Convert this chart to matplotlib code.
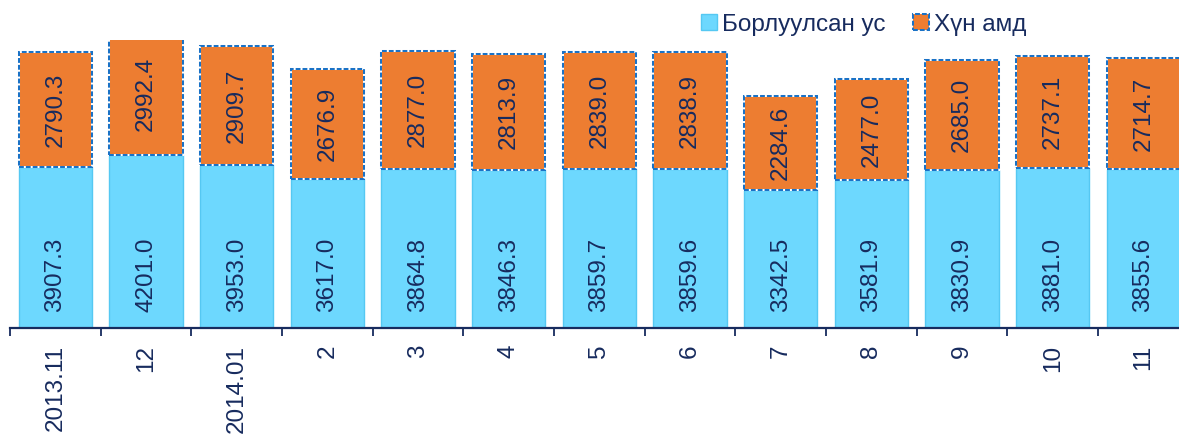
import matplotlib
matplotlib.use("Agg")
import matplotlib.pyplot as plt
from matplotlib.patches import Patch
import numpy as np

categories = ["2013.11", "12", "2014.01", "2", "3", "4", "5", "6", "7", "8", "9", "10", "11"]
sold_water = [3907.3, 4201.0, 3953.0, 3617.0, 3864.8, 3846.3, 3859.7, 3859.6, 3342.5, 3581.9, 3830.9, 3881.0, 3855.6]
population = [2790.3, 2992.4, 2909.7, 2676.9, 2877.0, 2813.9, 2839.0, 2838.9, 2284.6, 2477.0, 2685.0, 2737.1, 2714.7]
legend_labels = ["Борлуулсан ус", "Хүн амд"]

BLUE = "#6DD8FE"
BLUE_EDGE = "#55C8F2"
ORANGE = "#ED7D31"
DASH = "#1A72C6"
NAVY = "#172B5E"
FONT = "Liberation Sans"
FS = 17.5

W, H = 1179, 434
fig = plt.figure(figsize=(W / 100, H / 100), dpi=100)
ax = fig.add_axes([10 / W, 1 - 327.7 / H, (1188.7 - 10) / W, (327.7 - 40) / H])

x = np.arange(len(categories))
bw = 0.81
ax.bar(x, sold_water, width=bw, color=BLUE, edgecolor=BLUE_EDGE, linewidth=1.0, zorder=2)
ax.bar(x, population, width=bw, bottom=sold_water, color=ORANGE, edgecolor="white",
       linewidth=1.45, zorder=3)
ax.bar(x, population, width=bw, bottom=sold_water, fill=False, edgecolor=DASH,
       linewidth=1.45, linestyle=(0, (2.4, 1.0)), zorder=4)

for i in range(len(categories)):
    ax.annotate(f"{sold_water[i]:.1f}", xy=(x[i], 0), xytext=(0, 11.3), textcoords="offset points",
                rotation=90, ha="center", va="bottom", color=NAVY, fontsize=FS, family=FONT, zorder=5)
    ax.text(x[i], sold_water[i] + population[i] / 2, f"{population[i]:.1f}", rotation=90,
            ha="center", va="center", color=NAVY, fontsize=FS, family=FONT, zorder=5)

ax.set_xlim(-0.5, len(categories) - 0.5)
ax.set_ylim(0, 7000)
ax.set_xticks(x)
ax.set_xticklabels(categories, rotation=90, va="top", ha="center", fontsize=FS,
                   family=FONT, color=NAVY)
ax.set_xticks(np.arange(-0.5, len(categories), 1.0), minor=True)
ax.tick_params(axis="x", which="major", length=0, pad=12.2)
ax.tick_params(axis="x", which="minor", length=5.8, width=1.3, color=NAVY, direction="out")
ax.set_yticks([])
for s in ["top", "right", "left"]:
    ax.spines[s].set_visible(False)
ax.spines["bottom"].set_color(NAVY)
ax.spines["bottom"].set_linewidth(1.6)

handles = [
    Patch(facecolor=BLUE, edgecolor=BLUE_EDGE, linewidth=1.0),
    Patch(facecolor=ORANGE, edgecolor=DASH, linewidth=1.45, linestyle=(0, (2.4, 1.0))),
]
leg = fig.legend(handles, legend_labels, loc="center left",
                 bbox_to_anchor=(701 / W, 1 - 24.5 / H), ncol=2, frameon=False,
                 borderpad=0, borderaxespad=0, handlelength=0.65, handleheight=0.62,
                 handletextpad=0.2, columnspacing=1.15,
                 prop={"family": FONT, "size": FS})
for t in leg.get_texts():
    t.set_color(NAVY)

fig.savefig("out.png", dpi=100)
